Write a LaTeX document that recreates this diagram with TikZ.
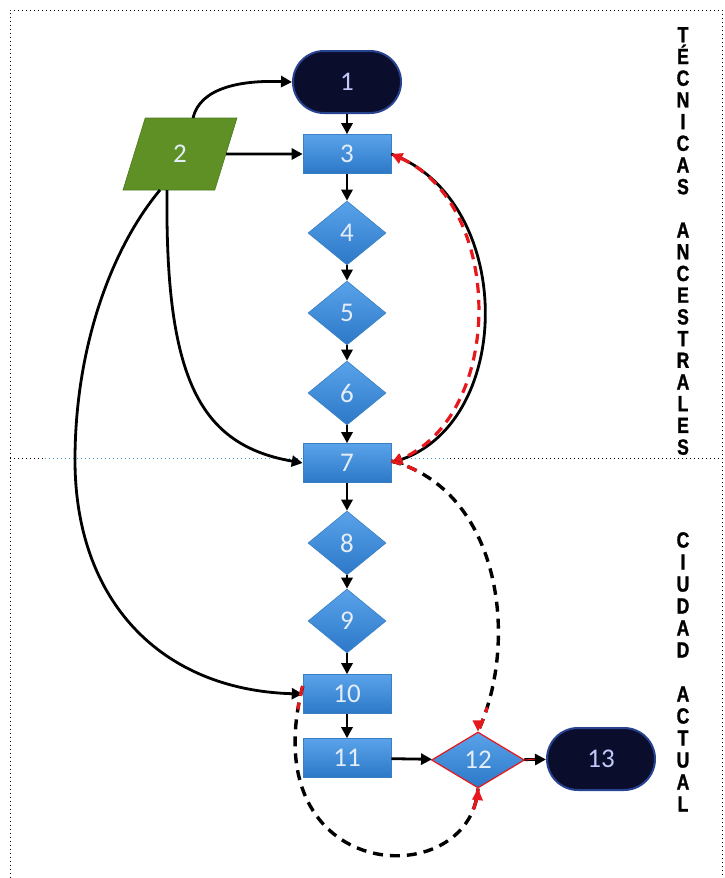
\documentclass[tikz,border=0pt]{standalone}
\usepackage{fontspec}
\setmainfont{Carlito}
\newfontfamily\sidefont[FakeStretch=0.8,FakeBold=1.2]{Liberation Sans Bold}
\usetikzlibrary{shapes.geometric,arrows.meta}

\definecolor{blueTop}{HTML}{5AA3EA}
\definecolor{blueBot}{HTML}{2C78C8}
\definecolor{blueEdge}{HTML}{3A7FC4}
\definecolor{navyFill}{HTML}{0A0D2C}
\definecolor{navyEdge}{HTML}{28438F}
\definecolor{leafFill}{HTML}{5E9025}
\definecolor{leafEdge}{HTML}{4C7A1B}
\definecolor{paleTxt}{HTML}{E4EDF8}
\definecolor{hiRed}{HTML}{E8171B}
\definecolor{divCyan}{HTML}{3AA6C8}

\tikzset{
  lbl/.style={text=paleTxt, font=\fontsize{27}{27}\selectfont, inner sep=0pt},
  proc/.style={lbl, rectangle, minimum width=88pt, minimum height=39pt,
    top color=blueTop, bottom color=blueBot, draw=blueEdge, line width=0.6pt},
  dec/.style={lbl, diamond, aspect=1.2, minimum width=78pt, minimum height=64pt,
    top color=blueTop, bottom color=blueBot, draw=blueEdge, line width=0.6pt},
  term/.style={lbl, rectangle, rounded corners=31pt, minimum width=108pt,
    minimum height=62pt, fill=navyFill, draw=navyEdge, line width=2pt,
    text=paleTxt!85!blue},
  datab/.style={lbl, trapezium, trapezium left angle=76, trapezium right angle=104,
    trapezium stretches=true, minimum width=114pt, minimum height=72pt,
    fill=leafFill, draw=leafEdge, line width=0.6pt},
  flow/.style={line width=2.8pt, black, -{Triangle[length=11pt,width=11pt]}},
  back/.style={line width=3.4pt, black, dash pattern=on 10pt off 7pt},
  backred/.style={line width=3.2pt, hiRed, dash pattern=on 10pt off 7pt},
  side/.style={inner sep=0pt, anchor=north, align=center},
  frame/.style={line width=0.9pt, dash pattern=on 1.2pt off 2.8pt},
}

\begin{document}
\begin{tikzpicture}[x=1pt,y=-1pt]
\useasboundingbox (0,0) rectangle (725,878);

% dotted frame, open at the bottom
\draw[frame] (10,878) -- (10,10) -- (722,10) -- (722,878);

% divider between the two periods
\draw[frame] (10,458) -- (45,458);
\draw[frame, divCyan] (45,458) -- (303,458);
\draw[frame, divCyan] (391,458) -- (450,458);
\draw[frame] (450,458) -- (722,458);

% nodes
\node[term] (n1) at (347,82) {1};
\node[datab] (n2) at (180,154) {2};
\node[proc] (n3) at (347,154) {3};
\node[dec] (n4) at (347,233) {4};
\node[dec] (n5) at (347,313) {5};
\node[dec] (n6) at (347,393) {6};
\node[proc] (n7) at (347,463) {7};
\node[dec] (n8) at (347,543) {8};
\node[dec] (n9) at (347,621) {9};
\node[proc] (n10) at (347,694) {10};
\node[proc] (n11) at (347,758) {11};
\node[dec, draw=hiRed, line width=1.2pt, minimum width=93pt, minimum height=56pt, aspect=1.66] (n12) at (478,760) {12};
\node[term] (n13) at (601,759) {13};

% main chain
\draw[flow] (n1) -- (n3);
\draw[flow] (n3) -- (n4);
\draw[flow] (n4) -- (n5);
\draw[flow] (n5) -- (n6);
\draw[flow] (n6) -- (n7);
\draw[flow] (n7) -- (n8);
\draw[flow] (n8) -- (n9);
\draw[flow] (n9) -- (n10);
\draw[flow] (n10) -- (n11);
\draw[flow] (n11) -- (n12);
\draw[flow] (n12) -- (n13);
\draw[hiRed, line width=1pt] (n12.east) -- ([xshift=-11pt]n13.west);

% links leaving node 2
\draw[flow] ([shift={(13,-36)}]n2.center) .. controls (200,88) and (240,80) .. (n1.west);
\draw[flow] (n2.east) -- (n3.west);
\draw[flow] ([shift={(-13,36)}]n2.center) .. controls (165,380) and (200,445) .. (n7.west);
\draw[flow] ([shift={(-20,36)}]n2.center) .. controls (110,250) and (75,350) .. (75,460)
            .. controls (75,600) and (160,690) .. (n10.west);

% loop between 3 and 7
\draw[flow] (n3.east) .. controls (515,200) and (515,420) .. (n7.east);
\draw[backred, {Triangle[length=11pt,width=11pt]}-{Triangle[length=11pt,width=11pt]}]
  (n3.east) .. controls (505,205) and (505,415) .. (n7.east);

% return from 12 back to 7
\draw[back] ([yshift=2pt]n7.east) .. controls (500,490) and (520,640) .. (n12.north);
\begin{scope}
  \clip (n7.east) circle (32pt) (n12.north) circle (26pt);
  \draw[backred] ([yshift=2pt]n7.east) .. controls (500,490) and (520,640) .. (n12.north);
\end{scope}
\fill[hiRed] (n12.north) -- ++(-5.5,-11) -- ++(11,0) -- cycle;

% return from 12 back to 10
\draw[back] ([yshift=8pt]n10.west) .. controls (252,885) and (470,895) .. (n12.south);
\begin{scope}
  \clip ([yshift=8pt]n10.west) circle (24pt) (n12.south) circle (26pt);
  \draw[backred] ([yshift=8pt]n10.west) .. controls (252,885) and (470,895) .. (n12.south);
\end{scope}
\fill[hiRed] (n12.south) -- ++(-6,11) -- ++(11,1) -- cycle;

% period captions, one letter per line
\node[side, font=\sidefont\fontsize{22}{21.7}\selectfont] (era1) at (683,27)
  {T\\É\\C\\N\\I\\C\\A\\S\\[21.7pt]A\\N\\C\\E\\S\\T\\R\\A\\L\\E\\S};
\node[side, font=\sidefont\fontsize{22}{22}\selectfont] (era2) at (683,532)
  {C\\I\\U\\D\\A\\D\\[22pt]A\\C\\T\\U\\A\\L};
\end{tikzpicture}
\end{document}
